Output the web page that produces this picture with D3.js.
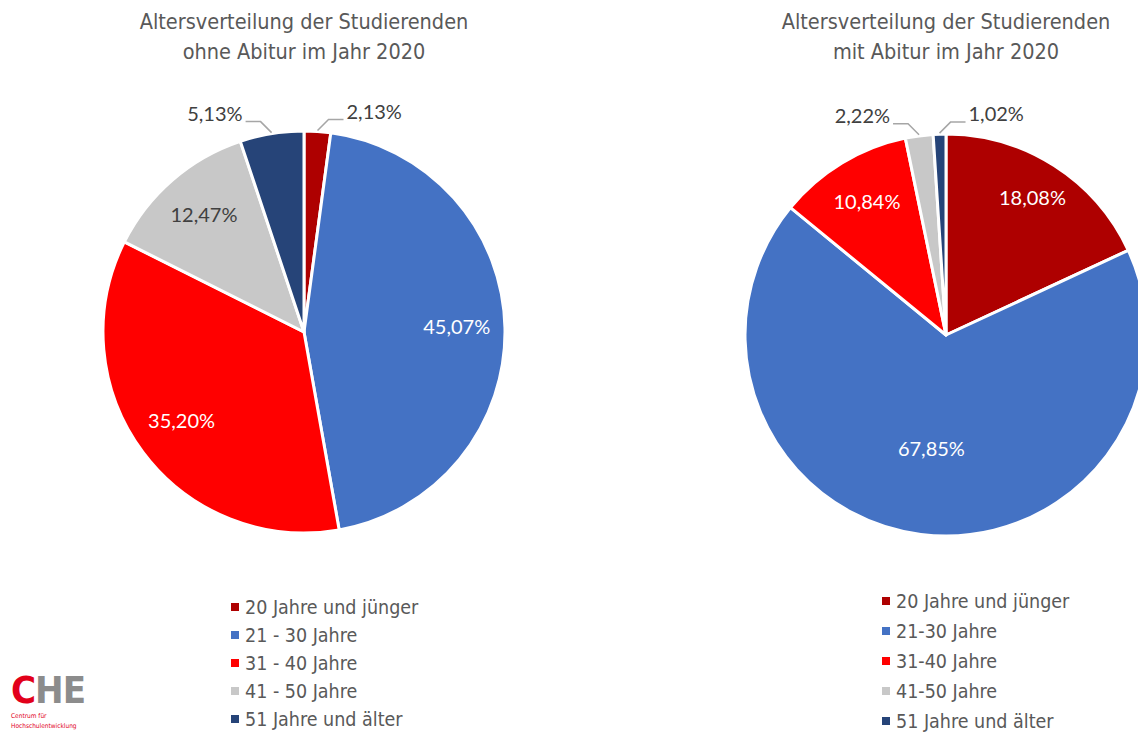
<html>

<head>
    <script src="https://d3js.org/d3.v7.min.js"></script>
    <style>
        body {
            margin: 0;
            background: white;
        }

        .title,
        .legend text,
        .logo {
            font-family: "DejaVu Sans", sans-serif;
            font-stretch: condensed;
        }

        .title {
            font-size: 21.5px;
            text-anchor: middle;
            fill: #595959;
        }

        .legend text {
            font-size: 19.5px;
            dominant-baseline: middle;
            fill: #595959;
        }

        .pct {
            font-family: "Lato", "Open Sans", sans-serif;
            font-size: 20px;
            dominant-baseline: middle;
        }
    </style>
</head>

<body>
    <svg id="chart" width="1138" height="732"></svg>
</body>

<script>
    // categories per chart (the legends are written slightly differently)
    const leftCategories = ["20 Jahre und jünger", "21 - 30 Jahre", "31 - 40 Jahre", "41 - 50 Jahre", "51 Jahre und älter"];
    const rightCategories = ["20 Jahre und jünger", "21-30 Jahre", "31-40 Jahre", "41-50 Jahre", "51 Jahre und älter"];

    // shares in percent
    const leftValues = [2.13, 45.07, 35.20, 12.47, 5.13];
    const rightValues = [18.08, 67.85, 10.84, 2.22, 1.02];

    const leftTitle = ["Altersverteilung der Studierenden", "ohne Abitur im Jahr 2020"];
    const rightTitle = ["Altersverteilung der Studierenden", "mit Abitur im Jahr 2020"];

    const colors = ["#AE0000", "#4472C4", "#FF0000", "#C8C8C8", "#264478"];
    const labelColors = ["#fff", "#fff", "#fff", "#404040", "#404040"];

    const svg = d3.select("#chart");
    const radius = 201;
    const fmt = v => d3.format(".2f")(v).replace(".", ",") + "%";

    const charts = [
        {
            title: leftTitle, categories: leftCategories, values: leftValues,
            cx: 304, cy: 332,
            // slices labelled outside with a callout, and on which side
            callouts: { 0: 1, 4: -1 },
            labelR: [0.76, 0.76, 0.76, 0.76, 0.76],
            legend: { x: 231, y: 607, step: 28 }
        },
        {
            title: rightTitle, categories: rightCategories, values: rightValues,
            cx: 946, cy: 335,
            callouts: { 3: -1, 4: 1 },
            labelR: [0.8, 0.58, 0.76, 0.76, 0.76],
            legend: { x: 882, y: 601, step: 30 }
        }
    ];

    charts.forEach(c => {
        // title
        svg.append("text")
            .attr("class", "title")
            .selectAll("tspan").data(c.title)
            .join("tspan")
            .attr("x", c.cx)
            .attr("y", (d, i) => 29 + i * 30)
            .text(d => d);

        const g = svg.append("g").attr("transform", `translate(${c.cx},${c.cy})`);

        const pie = d3.pie().sort(null).value(d => d);
        const arcs = pie(c.values);
        const arc = d3.arc().innerRadius(0).outerRadius(radius);

        g.selectAll("path").data(arcs)
            .join("path")
            .attr("d", arc)
            .attr("fill", (d, i) => colors[i])
            .attr("stroke", "white")
            .attr("stroke-width", 3)
            .attr("stroke-linejoin", "round");

        const mid = d => (d.startAngle + d.endAngle) / 2;
        const pt = (a, r) => [Math.sin(a) * r, -Math.cos(a) * r];

        // inside labels
        g.selectAll("text.inside").data(arcs.filter((d, i) => !(i in c.callouts)))
            .join("text")
            .attr("class", "pct inside")
            .attr("text-anchor", "middle")
            .attr("x", d => pt(mid(d), radius * c.labelR[d.index])[0])
            .attr("y", d => pt(mid(d), radius * c.labelR[d.index])[1])
            .attr("fill", d => labelColors[d.index])
            .text(d => fmt(d.data));

        // callout labels
        const outs = arcs.filter((d, i) => i in c.callouts);
        outs.forEach(d => {
            const side = c.callouts[d.index];
            const s = pt(mid(d), radius + 1);
            const e = [s[0] + side * 11, s[1] - 11];
            const f = [e[0] + side * 15, e[1]];
            g.append("polyline")
                .attr("points", [s, e, f].map(p => p.join(",")).join(" "))
                .attr("fill", "none")
                .attr("stroke", "#A6A6A6")
                .attr("stroke-width", 1.5);
            g.append("text")
                .attr("class", "pct")
                .attr("x", f[0] + side * 3)
                .attr("y", f[1] - 6)
                .attr("text-anchor", side > 0 ? "start" : "end")
                .attr("fill", "#404040")
                .text(fmt(d.data));
        });

        // legend
        const lg = svg.append("g").attr("class", "legend")
            .attr("transform", `translate(${c.legend.x},${c.legend.y})`);
        const rows = lg.selectAll("g").data(c.categories)
            .join("g")
            .attr("transform", (d, i) => `translate(0,${i * c.legend.step})`);
        rows.append("rect")
            .attr("x", 0).attr("y", -4)
            .attr("width", 8).attr("height", 8)
            .attr("fill", (d, i) => colors[i]);
        rows.append("text")
            .attr("x", 14).attr("y", 1)
            .text(d => d);
    });

    // CHE logo
    const logo = svg.append("g").attr("class", "logo").attr("transform", "translate(11,703)");
    const big = logo.append("text").attr("font-size", 38).attr("font-weight", "bold")
        .attr("letter-spacing", -1);
    big.append("tspan").attr("fill", "#E2001A").text("C");
    big.append("tspan").attr("fill", "#8C8C8C").text("HE");
    logo.append("text").attr("y", 15).attr("font-size", 6.5).attr("fill", "#E2001A").text("Centrum für");
    logo.append("text").attr("y", 25).attr("font-size", 6.5).attr("fill", "#E2001A").text("Hochschulentwicklung");
</script>

</html>
